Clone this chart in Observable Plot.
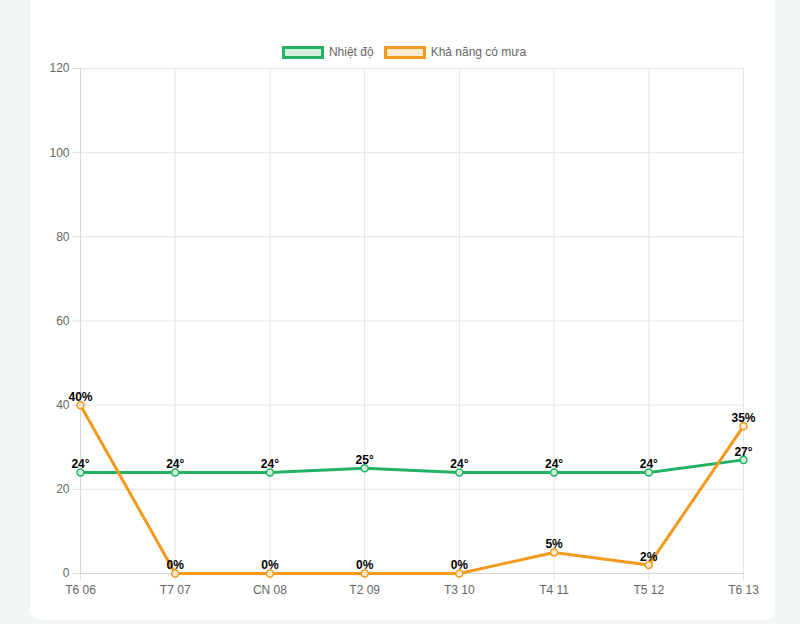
<!DOCTYPE html>
<html>
<head>
<meta charset="utf-8">
<script src="https://cdn.jsdelivr.net/npm/d3@7"></script>
<script src="https://cdn.jsdelivr.net/npm/@observablehq/plot@0.6"></script>
<style>
  html, body { margin: 0; padding: 0; width: 800px; height: 624px; overflow: hidden; background: #f2f6f7; font-family: Arial, "Liberation Sans", sans-serif; }
  #card { position: absolute; left: 30px; top: -20px; width: 745px; height: 640px; background: #fff; border-radius: 10px; }
  #legend { position: absolute; left: 0; top: 46px; width: 808px; display: flex; justify-content: center; align-items: center; font-size: 12px; color: #666; line-height: 13px; }
  .item { display: flex; align-items: center; margin: 0 5px; }
  .box { box-sizing: border-box; width: 42px; height: 13px; border: 3px solid; margin-right: 5px; }
  #chart { position: absolute; left: 0; top: 0; }
</style>
</head>
<body>
<div id="card"></div>
<div id="legend"></div>
<div id="chart"></div>
<script>
const days = ["T6 06", "T7 07", "CN 08", "T2 09", "T3 10", "T4 11", "T5 12", "T6 13"];
const temperature = [24, 24, 24, 25, 24, 24, 24, 27];
const rainChance = [40, 0, 0, 0, 0, 5, 2, 35];
const yTicks = [0, 20, 40, 60, 80, 100, 120];
const seriesNames = ["Nhiệt độ", "Khả năng có mưa"];

const green = "#22b263", greenFill = "#d3f0df";
const orange = "#f39a1c", orangeFill = "#fdebd2";

const tempData = days.map((d, i) => ({day: d, value: temperature[i]}));
const rainData = days.map((d, i) => ({day: d, value: rainChance[i]}));

// legend
const legend = document.getElementById("legend");
[[seriesNames[0], green, greenFill], [seriesNames[1], orange, orangeFill]].forEach(([name, c, f]) => {
  const it = document.createElement("div"); it.className = "item";
  const b = document.createElement("div"); b.className = "box"; b.style.borderColor = c; b.style.background = f;
  const t = document.createElement("span"); t.textContent = name;
  it.appendChild(b); it.appendChild(t); legend.appendChild(it);
});

const chart = Plot.plot({
  width: 800,
  height: 624,
  marginLeft: 80,
  marginRight: 57,
  marginTop: 68,
  marginBottom: 51,
  style: {background: "transparent", fontFamily: "Arial, 'Liberation Sans', sans-serif", fontSize: "12px", color: "#666", overflow: "visible"},
  x: {type: "point", domain: days, padding: 0, round: false, label: null},
  y: {domain: [0, 120], label: null},
  marks: [
    Plot.gridY(yTicks, {stroke: "#e5e5e5", strokeOpacity: 1}),
    Plot.gridX(days, {stroke: "#e5e5e5", strokeOpacity: 1}),
    Plot.axisY(yTicks, {tickSize: 8, tickPadding: 3, stroke: "#e0e0e0", fill: "#666", label: null}),
    Plot.axisX(days, {tickSize: 7, tickPadding: 5, stroke: "#e0e0e0", fill: "#666", label: null}),
    Plot.ruleY([0], {stroke: "#d6d6d6"}),
    Plot.ruleX([days[0]], {stroke: "#d6d6d6"}),
    Plot.line(tempData, {x: "day", y: "value", stroke: green, strokeWidth: 3}),
    Plot.line(rainData, {x: "day", y: "value", stroke: orange, strokeWidth: 3}),
    Plot.dot(tempData, {x: "day", y: "value", r: 3.5, fill: greenFill, stroke: green, strokeWidth: 1.5}),
    Plot.dot(rainData, {x: "day", y: "value", r: 3.5, fill: orangeFill, stroke: orange, strokeWidth: 1.5}),
    Plot.text(tempData, {x: "day", y: "value", text: d => d.value + "°", dy: -8, fill: "#000", fontWeight: "bold", fontSize: 12}),
    Plot.text(rainData, {x: "day", y: "value", text: d => d.value + "%", dy: -8, fill: "#000", fontWeight: "bold", fontSize: 12})
  ]
});
document.getElementById("chart").appendChild(chart);
</script>
</body>
</html>
